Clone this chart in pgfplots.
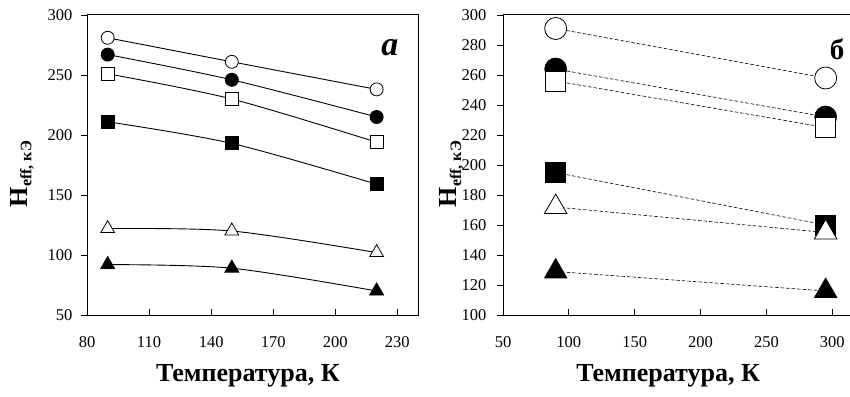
\documentclass[border=0pt]{standalone}
\usepackage{pgfplots}
\pgfplotsset{compat=1.18}
\usepackage{fontspec}
\setmainfont{Liberation Serif}
\begin{document}
\begin{tikzpicture}
\useasboundingbox (0,0) rectangle (850pt,396pt);
\pgfplotsset{
  common/.style={
    scale only axis, anchor=south west,
    height=300pt,
    axis line style={line width=1pt},
    xtick align=inside, ytick align=outside,
    xtick pos=bottom, ytick pos=left,
    major tick length=6pt,
    tick style={line width=0.9pt, black},
    tick label style={font=\fontsize{16.5}{18}\selectfont},
    xticklabel style={yshift=-18pt},
    /pgf/number format/assume math mode=true,
    label style={font=\bfseries\fontsize{26}{28}\selectfont},
    xlabel={Температура, К},
    ylabel={H\raisebox{-0.35ex}{\fontsize{16}{17}\selectfont eff, кЭ}},
    clip=false,
  },
  oc/.style={mark=*, mark options={fill=white, draw=black, line width=0.8pt, solid}},
  fc/.style={mark=*, mark options={fill=black, draw=black, solid}},
  os/.style={mark=square*, mark options={fill=white, draw=black, line width=0.8pt, solid}},
  fs/.style={mark=square*, mark options={fill=black, draw=black, solid}},
  ot/.style={mark=triangle*, mark options={fill=white, draw=black, line width=0.8pt, solid}},
  ft/.style={mark=triangle*, mark options={fill=black, draw=black, solid}},
}
% Left panel
\begin{axis}[common, at={(87pt,81pt)}, width=331pt,
  xmin=80, xmax=240, ymin=50, ymax=300,
  xtick={80,110,140,170,200,230}, ytick={50,100,...,300},
  yticklabel style={xshift=-5pt},
  xlabel style={at={(axis description cs:0.486,-0.223)}, anchor=base},
  ylabel style={at={(axis description cs:-0.181,0.47)}, anchor=base},
  every axis plot/.append style={black, line width=0.9pt, smooth, tension=0.5},
  mark size=6.5pt]
\addplot[oc] coordinates {(90,281) (150,261) (220,238)};
\addplot[fc] coordinates {(90,267) (150,246) (220,215)};
\addplot[os] coordinates {(90,251) (150,230) (220,194)};
\addplot[fs] coordinates {(90,211) (150,193) (220,159)};
\addplot[ot, mark size=8pt] coordinates {(90,122) (150,120) (220,102)};
\addplot[ft, mark size=8pt] coordinates {(90,92) (150,89) (220,70)};
\node[font=\bfseries\itshape\fontsize{34}{36}\selectfont] at (rel axis cs:0.915,0.89) {a};
\end{axis}
% Right panel
\begin{axis}[common, at={(503pt,81pt)}, width=349pt,
  xmin=50, xmax=315, ymin=100, ymax=300,
  xtick={50,100,...,300}, ytick={100,120,...,300},
  yticklabel style={xshift=-7pt},
  xlabel style={at={(axis description cs:0.473,-0.223)}, anchor=base},
  ylabel style={at={(axis description cs:-0.132,0.47)}, anchor=base},
  every axis plot/.append style={black, line width=0.6pt, dash pattern=on 3.5pt off 2pt},
  mark size=11pt]
\addplot[oc] coordinates {(90,291) (295,258)};
\addplot[fc] coordinates {(90,264) (295,232)};
\addplot[os, mark size=10pt] coordinates {(90,256) (295,225)};
\addplot[fs, mark size=10pt] coordinates {(90,195) (295,160)};
\addplot[ot, mark size=13pt] coordinates {(90,172) (295,155)};
\addplot[ft, mark size=13pt] coordinates {(90,129) (295,116)};
\node[font=\bfseries\fontsize{29}{30}\selectfont] at (rel axis cs:0.957,0.885) {б};
\end{axis}
\end{tikzpicture}
\end{document}
